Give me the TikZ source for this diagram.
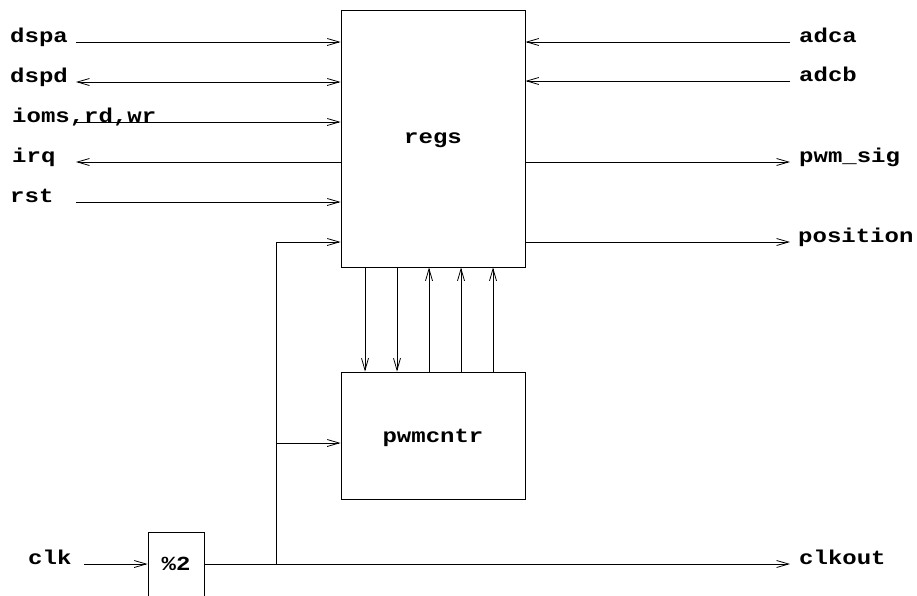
\documentclass[tikz,border=0pt]{standalone}
\usepackage{fontspec}
\setmonofont[FakeStretch=1.2]{Liberation Mono}
\usetikzlibrary{positioning,arrows.meta}

\begin{document}
\begin{tikzpicture}[x=1pt,y=-1pt,
  >={Straight Barb[length=12pt,width=7pt]},
  filo/.style={line width=0.8pt},
  blocco/.style={draw,line width=0.8pt,inner sep=0pt,text depth=0pt,font=\ttfamily\bfseries\fontsize{20}{24}\selectfont},
  etich/.style={anchor=base west,inner sep=0pt,font=\ttfamily\bfseries\fontsize{20}{24}\selectfont}]
  \useasboundingbox (0,0) rectangle (917,595);

  % blocchi
  \node[blocco,minimum width=184pt,minimum height=257pt] (regs) at (433,138.5) {regs};
  \node[blocco,minimum width=184pt,minimum height=127pt] (pwm) at (433,435.5) {pwmcntr};
  \node[blocco,minimum width=56pt,minimum height=64pt] (div) at (176,564) {\%2};

  % segnali a sinistra
  \node[etich] (dspa) at (10,42) {dspa};
  \node[etich] (dspd) at (10,82) {dspd};
  \node[etich] (ioms) at (12,122) {ioms,rd,wr};
  \node[etich] (irq) at (12,162) {irq};
  \node[etich] (rst) at (10,202) {rst};
  \coordinate (dspa-s) at (76,42);
  \coordinate (dspd-s) at (76,82);
  \coordinate (ioms-s) at (76,122);
  \coordinate (irq-s) at (76,162);
  \coordinate (rst-s) at (76,202);
  \draw[filo,->] (dspa-s) -- (dspa-s -| regs.west);
  \draw[filo,<->] (dspd-s) -- (dspd-s -| regs.west);
  \draw[filo,->] (ioms-s) -- (ioms-s -| regs.west);
  \draw[filo,<-] (irq-s) -- (irq-s -| regs.west);
  \draw[filo,->] (rst-s) -- (rst-s -| regs.west);

  % segnali a destra
  \node[etich] (adca) at (799,42) {adca};
  \node[etich] (adcb) at (799,81) {adcb};
  \node[etich] (sig) at (799,162) {pwm\_sig};
  \node[etich] (pos) at (798,242) {position};
  \coordinate (adca-e) at (790,42);
  \coordinate (adcb-e) at (790,81);
  \coordinate (sig-e) at (790,162);
  \coordinate (pos-e) at (790,242);
  \draw[filo,->] (adca-e) -- (adca-e -| regs.east);
  \draw[filo,->] (adcb-e) -- (adcb-e -| regs.east);
  \draw[filo,->] (sig-e -| regs.east) -- (sig-e);
  \draw[filo,->] (pos-e -| regs.east) -- (pos-e);

  % bus tra regs e pwmcntr
  \coordinate (b1) at (365,0);
  \coordinate (b2) at (397,0);
  \coordinate (b3) at (429,0);
  \coordinate (b4) at (461,0);
  \coordinate (b5) at (493,0);
  \draw[filo,->] (regs.south -| b1) -- (pwm.north -| b1);
  \draw[filo,->] (regs.south -| b2) -- (pwm.north -| b2);
  \draw[filo,->] (pwm.north -| b3) -- (regs.south -| b3);
  \draw[filo,->] (pwm.north -| b4) -- (regs.south -| b4);
  \draw[filo,->] (pwm.north -| b5) -- (regs.south -| b5);

  % clock
  \node[etich] (clk) at (28,564) {clk};
  \node[etich] (clkout) at (799,564) {clkout};
  \coordinate (clk-s) at (84,564);
  \coordinate (clkout-e) at (790,564);
  \coordinate (tap) at (276,564);
  \coordinate (fb) at (276,242);
  \coordinate (pck) at (276,443);
  \draw[filo,->] (clk-s) -- (div);
  \draw[filo,->] (div.east) -- (clkout-e);
  \draw[filo] (tap) -- (fb);
  \draw[filo,->] (fb) -- (fb -| regs.west);
  \draw[filo,->] (pck) -- (pck -| pwm.west);
\end{tikzpicture}
\end{document}
